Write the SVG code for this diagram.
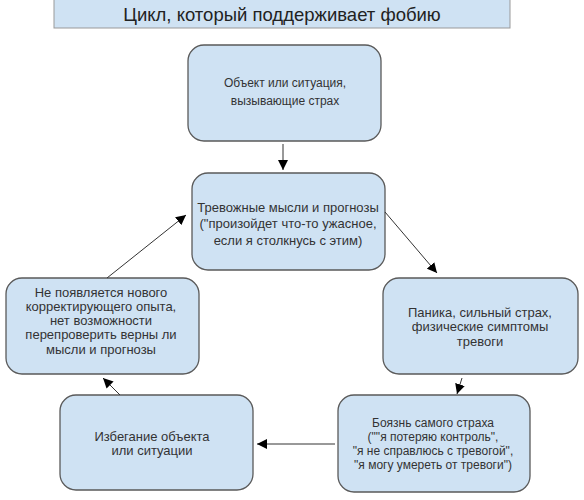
<svg xmlns="http://www.w3.org/2000/svg" width="584" height="500" viewBox="0 0 584 500">
<defs>
<style>
.box{fill:#cfe2f3;stroke:#5a5a5a;stroke-width:1.3}
.t{font-family:"Liberation Sans",Arial,sans-serif;font-size:12px;fill:#333;text-anchor:middle}
.c{stroke:#333;stroke-width:1;fill:none;marker-end:url(#ah)}
</style>
<marker id="ah" viewBox="0 0 10 10" refX="10" refY="5" markerWidth="10" markerHeight="10" markerUnits="userSpaceOnUse" orient="auto">
<path d="M0,0 L10,5 L0,10 z" fill="#000"/>
</marker>
</defs>
<rect width="584" height="500" fill="#fff"/>
<g id="title">
<rect x="54" y="-1" width="456" height="29" fill="#cfe2f3" stroke="#999" stroke-width="1"/>
<text x="282" y="21" style="font-family:'Liberation Sans',Arial,sans-serif;font-size:18.5px;fill:#222;text-anchor:middle">Цикл, который поддерживает фобию</text>
</g>
<g id="n1">
<rect class="box" x="188" y="45" width="193" height="96" rx="16"/>
<text class="t" x="285" y="87">Объект или ситуация,</text>
<text class="t" x="285" y="105">вызывающие страх</text>
</g>
<g id="n2">
<rect class="box" x="192" y="173" width="193" height="97" rx="16"/>
<text class="t" x="288" y="212" style="font-size:13px">Тревожные мысли и прогнозы</text>
<text class="t" x="288" y="228" style="font-size:13px">("произойдет что-то ужасное,</text>
<text class="t" x="288" y="245" style="font-size:13px">если я столкнусь с этим)</text>
</g>
<g id="n3">
<rect class="box" x="383" y="278" width="195" height="96" rx="16"/>
<text class="t" x="480" y="317" style="font-size:13px">Паника, сильный страх,</text>
<text class="t" x="480" y="331" style="font-size:13px">физические симптомы</text>
<text class="t" x="480" y="346" style="font-size:13px">тревоги</text>
</g>
<g id="n4">
<rect class="box" x="338" y="395" width="192" height="97" rx="16"/>
<text class="t" x="433" y="427">Боязнь самого страха</text>
<text class="t" x="433" y="441">(""я потеряю контроль",</text>
<text class="t" x="433" y="455">"я не справлюсь с тревогой",</text>
<text class="t" x="433" y="469">"я могу умереть от тревоги")</text>
</g>
<g id="n5">
<rect class="box" x="60" y="395" width="193" height="95" rx="16"/>
<text class="t" x="152" y="441" style="font-size:13px">Избегание объекта</text>
<text class="t" x="152" y="455" style="font-size:13px">или ситуации</text>
</g>
<g id="n6">
<rect class="box" x="6" y="278" width="193" height="96" rx="16"/>
<text class="t" x="101" y="297" style="font-size:13px">Не появляется нового</text>
<text class="t" x="101" y="311" style="font-size:13px">корректирующего опыта,</text>
<text class="t" x="101" y="325" style="font-size:13px">нет возможности</text>
<text class="t" x="101" y="339" style="font-size:13px">перепроверить верны ли</text>
<text class="t" x="101" y="354" style="font-size:13px">мысли и прогнозы</text>
</g>
<g id="connectors">
<line class="c" x1="283" y1="144" x2="283" y2="170"/>
<line class="c" x1="385" y1="212" x2="437" y2="273"/>
<line class="c" x1="462" y1="378" x2="457" y2="394"/>
<line class="c" x1="335" y1="444" x2="257" y2="444"/>
<line class="c" x1="120" y1="395" x2="103" y2="378"/>
<line class="c" x1="107" y1="278" x2="186" y2="215"/>
</g>
</svg>
